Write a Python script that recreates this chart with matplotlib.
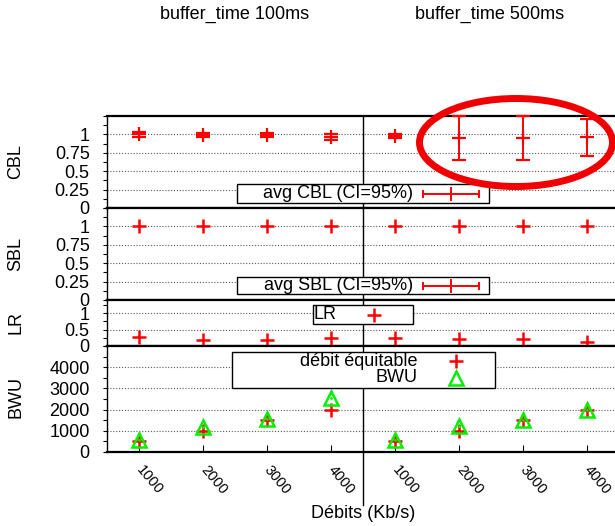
import matplotlib
matplotlib.use("Agg")
import matplotlib.pyplot as plt
from matplotlib.lines import Line2D
from matplotlib.patches import Rectangle, Ellipse
from matplotlib.ticker import MultipleLocator

plt.rcParams['font.family'] = ['Liberation Sans', 'DejaVu Sans']
FS = 13

# ---------------- data ----------------
debits = ["1000", "2000", "3000", "4000", "1000", "2000", "3000", "4000"]
buffer_titles = ["buffer_time 100ms", "buffer_time 500ms"]

cbl_avg = [1.00, 0.99, 0.99, 0.97, 0.98, 0.955, 0.955, 0.96]
cbl_lo = [0.97, 0.96, 0.96, 0.93, 0.95, 0.65, 0.65, 0.70]
cbl_hi = [1.03, 1.02, 1.02, 1.01, 1.01, 1.25, 1.25, 1.215]

sbl_avg = [1.0, 1.0, 1.0, 1.0, 1.0, 1.0, 1.0, 1.0]
sbl_lo = [1.0, 1.0, 1.0, 1.0, 1.0, 1.0, 1.0, 1.0]
sbl_hi = [1.0, 1.0, 1.0, 1.0, 1.0, 1.0, 1.0, 1.0]

lr = [0.27, 0.19, 0.19, 0.25, 0.25, 0.21, 0.21, 0.13]

debit_equitable = [500, 1000, 1500, 2000, 500, 1000, 1500, 2000]
bwu = [580, 1170, 1580, 2540, 570, 1230, 1490, 2000]

W, H = 615, 526
fig = plt.figure(figsize=(W / 100, H / 100), dpi=100)


def fx(x):
    return x / W


def fy(y):
    return 1 - y / H


def add_axes(top, bottom):
    return fig.add_axes([fx(107), fy(bottom), (619 - 107) / W, (bottom - top) / H])


RED = '#ff0000'
GREEN = '#00f000'
xs = list(range(1, len(debits) + 1))

panels = [
    ("CBL", 116, 208),
    ("SBL", 208, 300),
    ("LR", 300, 346),
    ("BWU", 346, 452),
]
axes = {}
for name, t, b in panels:
    ax = add_axes(t, b)
    axes[name] = ax
    ax.set_xlim(0.5, 8.5)
    for s in ['top', 'bottom']:
        ax.spines[s].set_linewidth(1.6)
    ax.spines['left'].set_linewidth(1.0)
    ax.spines['right'].set_visible(False)
    ax.tick_params(axis='y', which='major', direction='out', length=3, width=0.8,
                   labelsize=FS, pad=9.5)
    ax.tick_params(axis='y', which='minor', direction='out', length=3, width=0.8)
    ax.tick_params(axis='x', which='both', bottom=False, labelbottom=False)
    ax.yaxis.grid(True, which='major', color='0.35', linestyle=(0, (1, 1.6)), linewidth=0.8)
    ax.set_axisbelow(True)
    ax.axvline(4.5, color='black', lw=1.0, zorder=3)

# CBL
ax = axes["CBL"]
ax.set_ylim(0, 1.25)
ax.set_yticks([0, 0.25, 0.5, 0.75, 1])
ax.set_yticklabels(["0", "0.25", "0.5", "0.75", "1"])
ax.yaxis.set_minor_locator(MultipleLocator(0.125))
err = [[a - l for a, l in zip(cbl_avg, cbl_lo)], [h - a for a, h in zip(cbl_avg, cbl_hi)]]
ax.errorbar(xs, cbl_avg, yerr=err, fmt='+', color=RED, ms=10, mew=1.6,
            elinewidth=1.4, capsize=5, capthick=1.4, zorder=4, clip_on=False)

# SBL
ax = axes["SBL"]
ax.set_ylim(0, 1.25)
ax.set_yticks([0, 0.25, 0.5, 0.75, 1])
ax.set_yticklabels(["0", "0.25", "0.5", "0.75", "1"])
ax.yaxis.set_minor_locator(MultipleLocator(0.125))
err = [[a - l for a, l in zip(sbl_avg, sbl_lo)], [h - a for a, h in zip(sbl_avg, sbl_hi)]]
ax.errorbar(xs, sbl_avg, yerr=err, fmt='+', color=RED, ms=10, mew=1.8,
            elinewidth=1.4, capsize=0, zorder=4)

# LR
ax = axes["LR"]
ax.set_ylim(0, 1.4)
ax.set_yticks([0, 0.5, 1])
ax.set_yticklabels(["0", "0.5", "1"])
ax.yaxis.set_minor_locator(MultipleLocator(0.25))
ax.plot(xs, lr, '+', color=RED, ms=10, mew=1.8, zorder=4)

# BWU
ax = axes["BWU"]
ax.set_ylim(0, 5000)
ax.set_yticks([0, 1000, 2000, 3000, 4000])
ax.yaxis.set_minor_locator(MultipleLocator(500))
ax.plot(xs, debit_equitable, '+', color=RED, ms=10, mew=1.8, zorder=4)
ax.plot(xs, bwu, '^', mfc='none', mec=GREEN, ms=10, mew=1.8, zorder=5)
ax.plot(xs, bwu, '.', color=GREEN, ms=2, zorder=5)
ax.set_xticks(xs)
ax.tick_params(axis='x', which='major', bottom=True, direction='in', length=5, width=0.8,
               labelbottom=True, labelsize=10.5, pad=11)
ax.set_xticklabels(debits, rotation=-50, ha='left', va='center', rotation_mode='anchor')

# separator extension below the axes
fig.add_artist(Line2D([fx(363), fx(363)], [fy(452), fy(505)], color='black', lw=1.0))

# titles and axis labels
fig.text(fx(235), fy(14), buffer_titles[0], ha='center', va='center', fontsize=FS)
fig.text(fx(490), fy(14), buffer_titles[1], ha='center', va='center', fontsize=FS)
for name, y in [("CBL", 162), ("SBL", 254), ("LR", 323), ("BWU", 397)]:
    fig.text(fx(16), fy(y), name, rotation=90, ha='center', va='center', fontsize=FS)
fig.text(fx(363), fy(514), "Débits (Kb/s)", ha='center', va='center', fontsize=FS)


# legends (drawn manually, gnuplot style)
def box(x0, y0, x1, y1):
    fig.add_artist(Rectangle((fx(x0), fy(y1)), fx(x1) - fx(x0), fy(y0) - fy(y1),
                             transform=fig.transFigure, facecolor='white',
                             edgecolor='black', lw=1.0, zorder=5))


def errsample(xc, y, half=28, cap=3, tick=6):
    kw = dict(color=RED, lw=1.4, zorder=6)
    fig.add_artist(Line2D([fx(xc - half), fx(xc + half)], [fy(y), fy(y)], **kw))
    for xe in (xc - half, xc + half):
        fig.add_artist(Line2D([fx(xe), fx(xe)], [fy(y - cap), fy(y + cap)], **kw))
    fig.add_artist(Line2D([fx(xc), fx(xc)], [fy(y - tick), fy(y + tick)], **kw))


box(237, 184, 489, 203)
fig.text(fx(413), fy(193.5), "avg CBL (CI=95%)", ha='right', va='center', fontsize=FS, zorder=6)
errsample(451, 193.5)

box(237, 277, 489, 294)
fig.text(fx(413), fy(285.5), "avg SBL (CI=95%)", ha='right', va='center', fontsize=FS, zorder=6)
errsample(451, 285.5)

box(313, 305, 413, 324)
fig.text(fx(313.5), fy(314.5), "LR", ha='left', va='center', fontsize=FS, zorder=6)
fig.add_artist(Line2D([fx(374)], [fy(314.5)], marker='+', color=RED, ms=10, mew=1.8,
                      transform=fig.transFigure, zorder=6))

box(232, 352, 495, 388)
fig.text(fx(417), fy(361), "débit équitable", ha='right', va='center', fontsize=FS, zorder=6)
fig.text(fx(417), fy(378), "BWU", ha='right', va='center', fontsize=FS, zorder=6)
fig.add_artist(Line2D([fx(456)], [fy(361)], marker='+', color=RED, ms=10, mew=1.8,
                      transform=fig.transFigure, zorder=6))
fig.add_artist(Line2D([fx(456)], [fy(378)], marker='^', mfc='none', mec=GREEN, ms=10, mew=1.8,
                      transform=fig.transFigure, zorder=6))

# red highlight ellipse
fig.add_artist(Ellipse((fx(516), fy(142.5)), 193 / W, 88 / H, transform=fig.transFigure,
                       facecolor='none', edgecolor='#f00000', lw=5, zorder=10))

fig.savefig("out.png", dpi=100)
